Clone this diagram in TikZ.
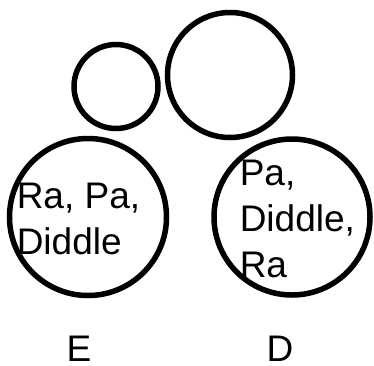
\documentclass[tikz,border=0pt]{standalone}
\usepackage{fontspec}
\setmainfont{Liberation Sans}
\usepackage{tikz}

\begin{document}
\begin{tikzpicture}[x=1pt,y=-1pt,line width=5.5pt]

  \tikzstyle{ringnode}=[draw=black,shape=circle,inner sep=0pt]
  \tikzstyle{textnode}=[inner sep=0pt,align=left,font=\fontsize{37}{46}\selectfont]
  \tikzstyle{labelnode}=[inner sep=0pt,font=\fontsize{37}{46}\selectfont]

  \useasboundingbox (0,0) rectangle (374,365);

  \node[ringnode,minimum size=84pt]  (small) at (116,86.5) {};
  \node[ringnode,minimum size=125pt] (top)   at (230,75)   {};
  \node[ringnode,minimum size=157pt] (e)     at (88,217)   {};
  \node[ringnode,minimum size=156pt] (d)     at (292,217)  {};

  \node[textnode,anchor=base west] (etext) at (14,254)  {Ra, Pa,\\Diddle};
  \node[textnode,anchor=base west] (dtext) at (237,277) {Pa,\\Diddle,\\Ra};

  \node[labelnode,anchor=base] (elabel) at (79,361) {E};
  \node[labelnode,anchor=base] (dlabel) at (280,361) {D};
\end{tikzpicture}
\end{document}
